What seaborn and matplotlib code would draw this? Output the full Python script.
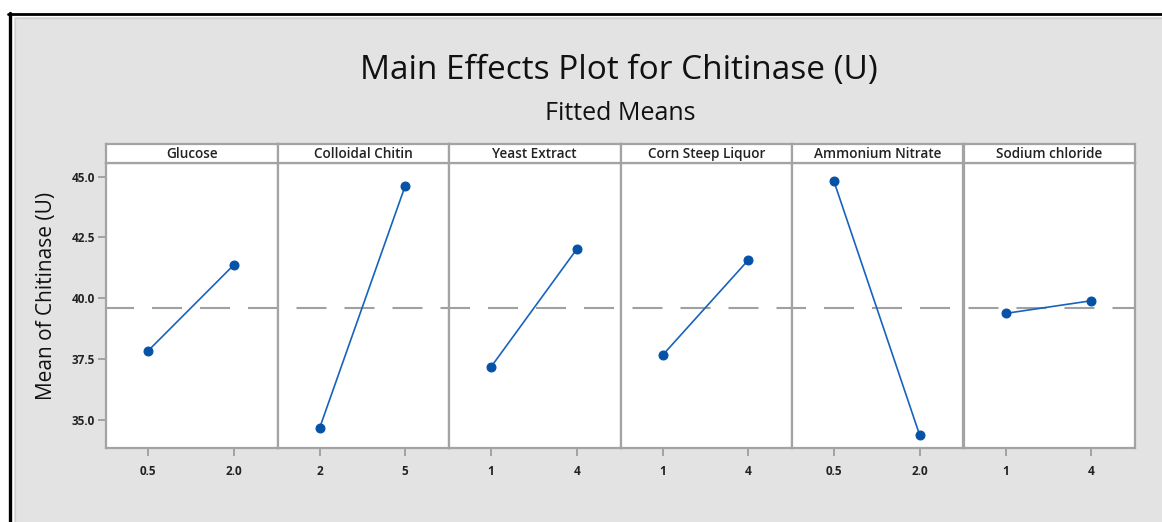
import matplotlib
matplotlib.use("Agg")
import matplotlib.pyplot as plt
import seaborn as sns
import pandas as pd
from matplotlib.patches import Rectangle
from matplotlib.lines import Line2D

# Fitted means of chitinase activity (U) at the low and high level of each factor
factors = ["Glucose", "Colloidal Chitin", "Yeast Extract",
           "Corn Steep Liquor", "Ammonium Nitrate", "Sodium chloride"]
levels = [["0.5", "2.0"], ["2", "5"], ["1", "4"],
          ["1", "4"], ["0.5", "2.0"], ["1", "4"]]
low_means = [37.84, 34.66, 37.18, 37.66, 44.80, 39.38]
high_means = [41.37, 44.63, 42.02, 41.57, 34.37, 39.90]
grand_mean = 39.62
y_ticks = [35.0, 37.5, 40.0, 42.5, 45.0]

rows = []
for f, lv, lo, hi in zip(factors, levels, low_means, high_means):
    rows.append({"factor": f, "level": lv[0], "mean": lo})
    rows.append({"factor": f, "level": lv[1], "mean": hi})
df = pd.DataFrame(rows)

sns.set_theme(style="white")
plt.rcParams["font.family"] = ["Open Sans", "DejaVu Sans"]

W, H = 1162, 522
fig = plt.figure(figsize=(W / 100, H / 100), dpi=100, facecolor="white")

def fx(px):
    return px / W

def fy(py):
    return 1 - py / H

# Framed grey canvas (kept behind the panels)
fig.patches.append(Rectangle((fx(14), 0), 1 - fx(14), fy(17), transform=fig.transFigure,
                             facecolor="#e3e3e3", edgecolor="none", zorder=-10))
frame_lines = [
    ([fx(9.5), fx(9.5)], [0, fy(12.5)], "black", 2.4),
    ([fx(8.3), 1], [fy(13.5), fy(13.5)], "black", 2.0),
    ([fx(15), fx(15)], [0, fy(18)], "#d0d0d0", 1.0),
    ([fx(15), 1], [fy(18), fy(18)], "#d0d0d0", 1.0),
]
for xs, ys, c, lw in frame_lines:
    fig.lines.append(Line2D(xs, ys, transform=fig.transFigure, color=c, lw=lw, zorder=-5))

GRID = "#a3a3a3"
LINE_BLUE = "#1763bd"
MARK_BLUE = "#0652a6"
TXT = "#222222"

left_px, right_px = 106, 1135
top_px, bottom_px = 163, 448
strip_top = 144
n = len(factors)
pw = (right_px - left_px) / n

y_lo, y_hi = 33.85, 45.56

# dashed reference line: 30 px dash, 18 px gap, continuous from panel to panel
ref_lw = 1.5
dash_on, dash_off = 30 * 0.72 / ref_lw, 18 * 0.72 / ref_lw
period_px = 48

for i, f in enumerate(factors):
    x0 = left_px + i * pw
    ax = fig.add_axes([fx(x0), fy(bottom_px), fx(pw), (bottom_px - top_px) / H])
    ax.set_facecolor("white")
    sub = df[df["factor"] == f]
    offset = ((i * pw + 2) % period_px) * 0.72 / ref_lw
    ax.axhline(grand_mean, color="#a0a0a0", lw=ref_lw,
               linestyle=(offset, (dash_on, dash_off)), zorder=1)
    sns.pointplot(data=sub, x="level", y="mean", order=levels[i], ax=ax,
                  color=LINE_BLUE, markers="o", linestyles="-", linewidth=1.2,
                  markersize=6.3, errorbar=None, zorder=3,
                  markerfacecolor=MARK_BLUE, markeredgecolor=MARK_BLUE)
    ax.set_xlim(-0.49, 1.51)
    ax.set_ylim(y_lo, y_hi)
    ax.set_xlabel("")
    ax.set_ylabel("")
    for s in ax.spines.values():
        s.set_color(GRID)
        s.set_linewidth(1.6)
    ax.tick_params(axis="x", bottom=True, length=6, width=1.4, color=GRID,
                   labelsize=8.5, labelcolor=TXT, pad=6)
    ax.set_xticks([0, 1])
    ax.set_xticklabels(levels[i], fontweight="bold")
    if i == 0:
        ax.set_yticks(y_ticks)
        ax.set_yticklabels([f"{t:.1f}" for t in y_ticks], fontweight="bold")
        ax.tick_params(axis="y", left=True, length=6, width=1.4, color=GRID,
                       labelsize=8.5, labelcolor=TXT, pad=2)
    else:
        ax.set_yticks([])

    # factor strip above each panel
    sax = fig.add_axes([fx(x0), fy(top_px), fx(pw), (top_px - strip_top) / H])
    sax.set_facecolor("white")
    sax.set_xticks([])
    sax.set_yticks([])
    for s in sax.spines.values():
        s.set_color(GRID)
        s.set_linewidth(1.6)
    sax.text(0.5, 0.45, f, ha="center", va="center", fontsize=9.8,
             fontweight="semibold", color=TXT, transform=sax.transAxes)

fig.text(fx(619), fy(71), "Main Effects Plot for Chitinase (U)", ha="center", va="center",
         fontsize=24, fontweight="medium", color="#111111")
fig.text(fx(620), fy(113), "Fitted Means", ha="center", va="center",
         fontsize=18, color="#111111")
fig.text(fx(47), fy(296), "Mean of Chitinase (U)", ha="center", va="center",
         rotation=90, fontsize=15, color="#111111")

fig.savefig("out.png", dpi=100, facecolor="white")
